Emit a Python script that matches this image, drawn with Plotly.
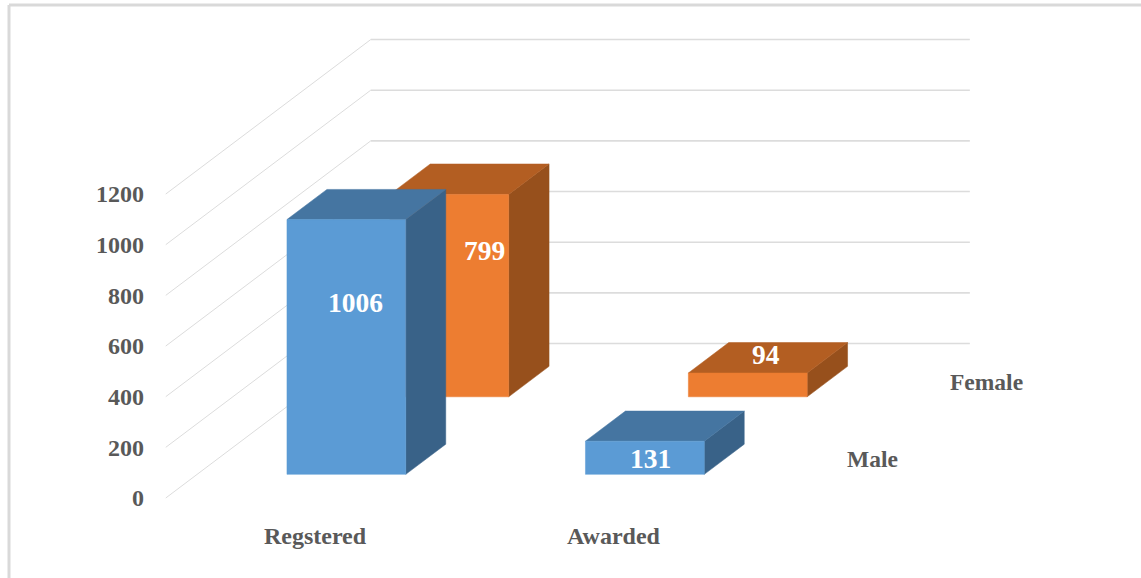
import plotly.graph_objects as go

# --- data ---
categories = ["Regstered", "Awarded"]
series_names = ["Male", "Female"]
male_values = [1006, 131]
female_values = [799, 94]
tick_values = [0, 200, 400, 600, 800, 1000, 1200]

# --- style ---
TEXT = "#595959"
GRID = "#dcdcdc"
FONT = "Liberation Serif"
male_colors = dict(front="#5B9BD5", top="#4575A1", side="#396288")
female_colors = dict(front="#ED7D31", top="#B35E22", side="#97501C")

# --- geometry of the oblique view, in axis units ---
W, H = 1141, 578
M_L, M_R, M_T, M_B = 148, 41, 10, 58
PX_PER_CAT = 298.5
PX_PER_VAL = 0.2533
SHIFT_C = 205 / PX_PER_CAT   # category units moved at full depth
SHIFT_V = 154.5 / PX_PER_VAL  # value units moved at full depth
HALF = 0.199
DEPTH_BANDS = [(0.153, 0.348), (0.655, 0.852)]


def proj(c, d, v):
    return c + d * SHIFT_C, v + d * SHIFT_V


fig = go.Figure()


def poly(points, color):
    xy = [proj(*p) for p in points]
    xy.append(xy[0])
    fig.add_trace(go.Scatter(
        x=[p[0] for p in xy], y=[p[1] for p in xy], mode="lines",
        fill="toself", fillcolor=color, line=dict(color=color, width=0.5),
        hoverinfo="skip", showlegend=False))


# walls: one bent gridline per tick
for t in tick_values:
    a = proj(-0.5, 0, t)
    b = proj(-0.5, 1, t)
    e = proj(1.507, 1, t)
    fig.add_trace(go.Scatter(x=[a[0], b[0]], y=[a[1], b[1]], mode="lines",
                             line=dict(color=GRID, width=1),
                             hoverinfo="skip", showlegend=False))
    fig.add_trace(go.Scatter(x=[b[0], e[0]], y=[b[1], e[1]], mode="lines",
                             line=dict(color=GRID, width=1.6),
                             hoverinfo="skip", showlegend=False))


def box(c, band, v, col):
    d0, d1 = band
    l, r = c - HALF, c + HALF
    poly([(r, d0, 0), (r, d1, 0), (r, d1, v), (r, d0, v)], col["side"])
    poly([(l, d0, v), (r, d0, v), (r, d1, v), (l, d1, v)], col["top"])
    poly([(l, d0, 0), (r, d0, 0), (r, d0, v), (l, d0, v)], col["front"])


for i in range(len(categories)):
    box(i, DEPTH_BANDS[1], female_values[i], female_colors)
for i in range(len(categories)):
    box(i, DEPTH_BANDS[0], male_values[i], male_colors)

# value labels, pixel nudges from the top centre of each front face
label_nudges = {(0, 0): (9, -83), (0, 1): (35, -56), (1, 0): (6, -17), (1, 1): (18, 18)}
annotations = []
for s, vals in enumerate([male_values, female_values]):
    for i, v in enumerate(vals):
        x, y = proj(i, DEPTH_BANDS[s][0], v)
        dx, dy = label_nudges[(i, s)]
        annotations.append(dict(
            x=x, y=y, xref="x", yref="y", text=f"<b>{v}</b>", showarrow=False,
            xshift=dx, yshift=dy, xanchor="center", yanchor="middle",
            font=dict(family=FONT, size=27.5, color="white")))

# depth-axis labels
for d, name in zip([0.25, 0.75], series_names):
    x, y = proj(1.5, d, 0)
    annotations.append(dict(
        x=x, y=y, xref="x", yref="y", text=f"<b>{name}</b>", showarrow=False,
        xshift=31, xanchor="left", yanchor="middle",
        font=dict(family=FONT, size=23.5, color=TEXT)))

plot_w = W - M_L - M_R
plot_h = H - M_T - M_B
# chart frame: top and left edges only
fx = (9 - M_L) / plot_w
fy = 1 + (M_T - 5) / plot_h
fb = -M_B / plot_h
frame = [
    dict(type="line", xref="paper", yref="paper", x0=fx, x1=1 + M_R / plot_w, y0=fy, y1=fy,
         line=dict(color="#d9d9d9", width=3), layer="below"),
    dict(type="line", xref="paper", yref="paper", x0=fx, x1=fx, y0=fy, y1=fb,
         line=dict(color="#d9d9d9", width=3), layer="below"),
]

fig.update_layout(
    width=W, height=H, autosize=False,
    margin=dict(l=M_L, r=M_R, t=M_T, b=M_B, pad=0),
    paper_bgcolor="white", plot_bgcolor="white",
    showlegend=False, annotations=annotations, shapes=frame,
    xaxis=dict(
        range=[(M_L - 315) / PX_PER_CAT, (W - M_R - 315) / PX_PER_CAT],
        tickmode="array", tickvals=list(range(len(categories))),
        ticktext=[f"<b>{c}</b>" for c in categories],
        tickfont=dict(family=FONT, size=24, color=TEXT),
        ticklabelstandoff=-1,
        showgrid=False, zeroline=False, showline=False, ticks=""),
    yaxis=dict(
        range=[(498 - (H - M_B)) / PX_PER_VAL, (498 - M_T) / PX_PER_VAL],
        tickmode="array", tickvals=tick_values,
        ticktext=[f"<b>{t}</b>" for t in tick_values],
        tickfont=dict(family=FONT, size=24, color=TEXT),
        ticklabelstandoff=3,
        showgrid=False, zeroline=False, showline=False, ticks=""),
)

fig.write_html("out.html", config=dict(displayModeBar=False),
               post_script="document.body.style.margin='0';")
